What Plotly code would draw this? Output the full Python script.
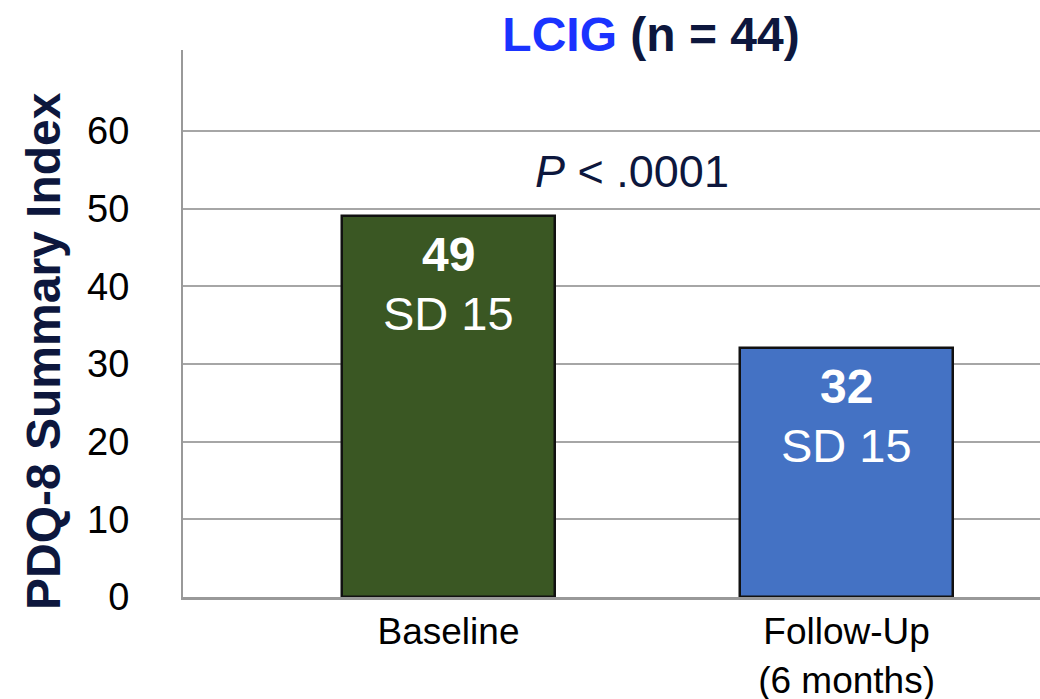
import plotly.graph_objects as go

# Data
categories = ["Baseline", "Follow-Up<br>(6 months)"]
means = [49, 32]
sds = [15, 15]
bar_colors = ["#3A5723", "#4472C4"]
y_ticks = [0, 10, 20, 30, 40, 50, 60]
p_text = "<i>P</i> < .0001"

FONT = "Liberation Sans, Arial, sans-serif"
NAVY = "#0D173D"

fig = go.Figure()
fig.add_trace(go.Bar(
    x=categories,
    y=means,
    width=0.535,
    marker=dict(color=bar_colors, line=dict(color="#111111", width=2.5)),
    hoverinfo="skip",
))

# Value labels inside each bar: bold mean, then SD underneath
for cat, m, sd in zip(categories, means, sds):
    fig.add_annotation(x=cat, y=m, xref="x", yref="y", text=f"<b>{m}</b>",
                       showarrow=False, yanchor="middle", yshift=-38,
                       font=dict(family=FONT, size=48, color="white"))
    fig.add_annotation(x=cat, y=m, xref="x", yref="y", text=f"SD {sd}",
                       showarrow=False, yanchor="middle", yshift=-97,
                       font=dict(family=FONT, size=47, color="white"))

# Significance label
fig.add_annotation(x=0.524, y=0.777, xref="paper", yref="paper", text=p_text,
                   showarrow=False, xanchor="center", yanchor="middle",
                   font=dict(family=FONT, size=45, color=NAVY))

# Y-axis title drawn as rotated text
fig.add_annotation(x=-0.162, y=0.45, xref="paper", yref="paper",
                   text="<b>PDQ-8 Summary Index</b>", textangle=-90,
                   showarrow=False, xanchor="center", yanchor="middle",
                   font=dict(family=FONT, size=48, color=NAVY))

fig.update_layout(
    width=1040, height=699,
    margin=dict(l=183, r=0, t=50, b=102),
    paper_bgcolor="white", plot_bgcolor="white",
    showlegend=False,
    bargap=0,
    title=dict(
        text="<b><span style='color:#1A33FF'>LCIG</span> (n = 44)</b>",
        x=651 / 1040, xref="container", xanchor="center",
        y=1 - 34 / 699, yref="container", yanchor="middle",
        font=dict(family=FONT, size=48, color=NAVY),
    ),
    xaxis=dict(
        range=[-0.667, 1.486],
        automargin=False,
        showgrid=False, zeroline=False,
        showline=True, linecolor="#999999", linewidth=3,
        ticks="", ticklabelstandoff=0,
        tickfont=dict(family=FONT, size=37, color="black"),
    ),
    yaxis=dict(
        range=[0, 70.4],
        automargin=False,
        tickvals=y_ticks,
        showgrid=True, gridcolor="#A6A6A6", gridwidth=1.5,
        zeroline=False,
        showline=True, linecolor="#999999", linewidth=2,
        ticks="", ticklabelstandoff=44,
        tickfont=dict(family=FONT, size=38, color="black"),
    ),
)

fig.write_html("out.html")
